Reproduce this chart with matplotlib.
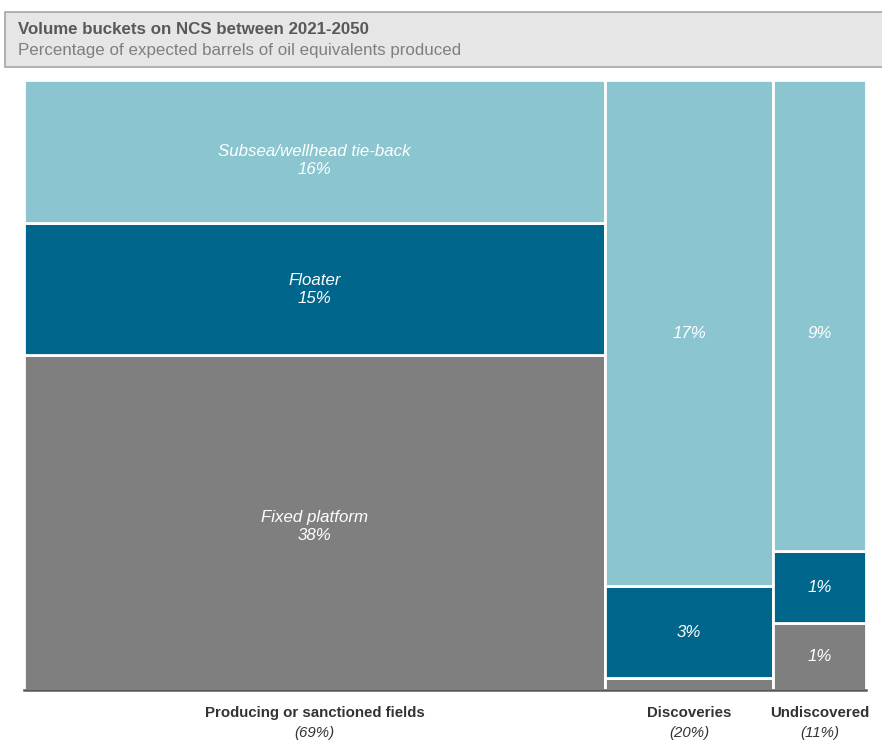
import matplotlib.pyplot as plt
from matplotlib.patches import Rectangle

plt.rcParams['font.family'] = ['Liberation Sans', 'DejaVu Sans']

# Column groups and their share of total volume (%)
groups = ["Producing or sanctioned fields", "Discoveries", "Undiscovered"]
group_share = [69, 20, 11]

# Development concept values per group (% of total), bottom to top
fixed_platform = [37.9, 0.4, 1.2]
floater = [14.9, 3.0, 1.3]
subsea = [16.2, 16.6, 8.5]

# Text shown inside the boxes
fixed_labels = ["Fixed platform\n38%", "", "1%"]
floater_labels = ["Floater\n15%", "3%", "1%"]
subsea_labels = ["Subsea/wellhead tie-back\n16%", "17%", "9%"]

light_blue = "#8AC5D0"
dark_blue = "#00668C"
grey = "#7F7F7F"

fig = plt.figure(figsize=(8.82, 7.4), dpi=100)
ax = fig.add_axes([24 / 882, 50 / 740, 842 / 882, 610 / 740])

# Title box
fig.patches.append(Rectangle((5 / 882, 673 / 740), 0.995, 55 / 740, transform=fig.transFigure,
                             facecolor="#E6E6E6", edgecolor="#A6A6A6", linewidth=1.2))
fig.text(18 / 882, 710 / 740, "Volume buckets on NCS between 2021-2050", fontsize=12.2,
         fontweight="bold", color="#595959", va="center")
fig.text(18 / 882, 690 / 740, "Percentage of expected barrels of oil equivalents produced",
         fontsize=12.2, color="#7F7F7F", va="center")

left = 0
for i in range(len(groups)):
    w = group_share[i]
    total = fixed_platform[i] + floater[i] + subsea[i]
    parts = [fixed_platform[i] / total, floater[i] / total, subsea[i] / total]
    labels = [fixed_labels[i], floater_labels[i], subsea_labels[i]]
    colors = [grey, dark_blue, light_blue]
    bottom = 0
    for p, lab, c in zip(parts, labels, colors):
        ax.bar(left, p, width=w, bottom=bottom, align="edge", color=c,
               edgecolor="white", linewidth=2)
        ty = bottom + p / 2
        if c == light_blue:
            if i == 0:
                ty -= 0.015  # label sits a bit low in the original
            elif i == 2:
                # aligned with the discoveries label in the original
                ty = 1 - (subsea[1] / 20) / 2
        elif c == grey and i == 0:
            ty -= 0.007
        if lab:
            ax.text(left + w / 2, ty, lab, ha="center", va="center", color="white",
                    fontsize=12.2, fontstyle="italic", linespacing=1.25)
        bottom += p
    ax.text(left + w / 2, -0.027, groups[i], ha="center", va="top",
            fontsize=10.8, fontweight="bold", color="#333333")
    ax.text(left + w / 2, -0.059, "(%d%%)" % group_share[i], ha="center", va="top",
            fontsize=10.8, fontstyle="italic", color="#333333")
    left += w

ax.axhline(0, color="#595959", linewidth=1.8, zorder=5, clip_on=False)
ax.set_xlim(0, 100)
ax.set_ylim(0, 1)
ax.axis("off")

fig.savefig("out.png", dpi=100)
